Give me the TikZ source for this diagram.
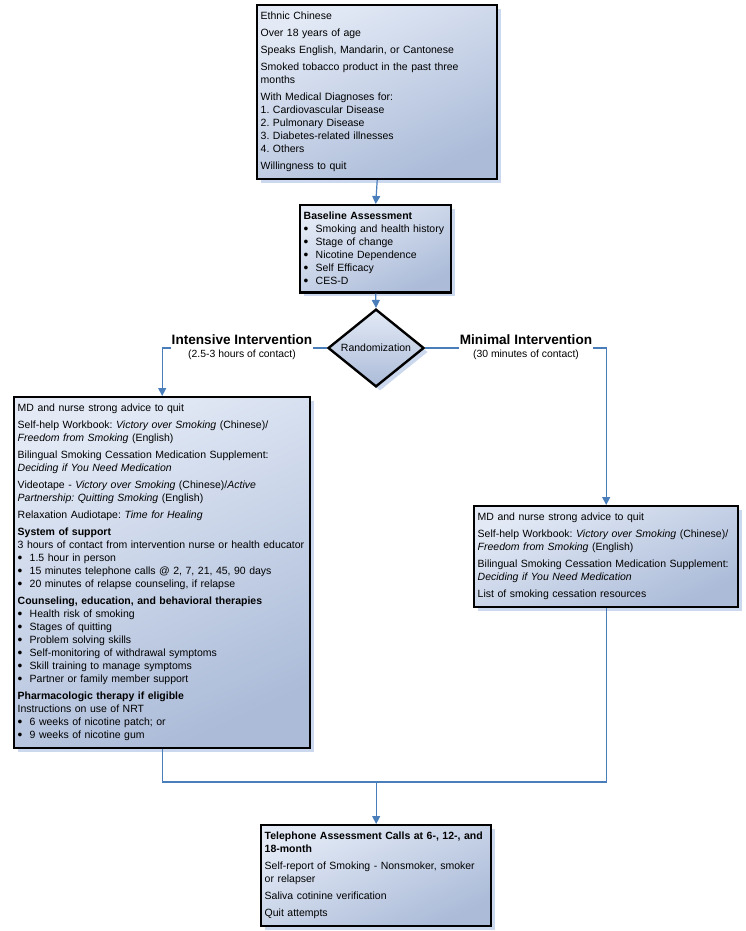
\documentclass[tikz,border=0pt]{standalone}
\usepackage{fontspec}
\setmainfont{Liberation Sans}
\usetikzlibrary{arrows.meta,positioning,shapes.geometric,shadows}
\definecolor{boxtop}{HTML}{E3EAF6}
\definecolor{boxbot}{HTML}{ABBBD8}
\definecolor{shadowblue}{HTML}{CBD8EE}
\definecolor{lineblue}{HTML}{4A7EBB}
\frenchspacing
\newcommand\bul{\makebox[12pt][l]{\raisebox{-0.5pt}{\scalebox{1.3}{\textbullet}}}}
\newcommand\subfont{\fontsize{10.4}{11}\selectfont\mdseries}
\tikzset{
  box/.style    ={draw=black,line width=2.4pt,top color=boxtop,bottom color=boxbot,
                  shading angle=25,
                  drop shadow={fill=shadowblue,opacity=1,shadow xshift=4pt,shadow yshift=-4pt},
                  inner xsep=3.5pt,inner ysep=7pt,anchor=north west,align=left,
                  font=\fontsize{10.5}{13}\selectfont},
  decis/.style  ={diamond,draw=black,line width=2.4pt,top color=boxtop,bottom color=boxbot,
                  drop shadow={fill=shadowblue,opacity=1,shadow xshift=4pt,shadow yshift=-4pt},
                  minimum width=96pt,minimum height=71pt,inner sep=0pt,
                  font=\fontsize{10.5}{12}\selectfont},
  ln/.style     ={draw=lineblue,line width=1.2pt},
  lnarr/.style  ={ln,-{Triangle[length=8pt,width=8pt]}},
  lbl/.style    ={fill=white,inner sep=1pt,align=center,font=\fontsize{13.6}{14}\selectfont\bfseries},
}

\begin{document}
\begin{tikzpicture}[x=1pt,y=-1pt]
\useasboundingbox (0,0) rectangle (746,931);

%% ---------------- boxes ----------------
\node[box,text width=233pt] (crit) at (256,4) {%
  Ethnic Chinese\\[4pt]
  Over 18 years of age\\[4pt]
  Speaks English, Mandarin, or Cantonese\\[4pt]
  Smoked tobacco product in the past three\\
  months\\[4pt]
  With Medical Diagnoses for:\\
  1. Cardiovascular Disease\\
  2. Pulmonary Disease\\
  3. Diabetes-related illnesses\\
  4. Others\\[4pt]
  Willingness to quit};

\node[box,text width=144pt] (base) at (299,204) {%
  \textbf{Baseline Assessment}\\
  \bul Smoking and health history\\
  \bul Stage of change\\
  \bul Nicotine Dependence\\
  \bul Self Efficacy\\
  \bul CES-D};

\node[decis] (rand) at (376,348) {Randomization};

\node[box,text width=289pt] (intens) at (13,396) {%
  MD and nurse strong advice to quit\\[4pt]
  Self-help Workbook: \textit{Victory over Smoking} (Chinese)/\\
  \textit{Freedom from Smoking} (English)\\[4pt]
  Bilingual Smoking Cessation Medication Supplement:\\
  \textit{Deciding if You Need Medication}\\[4pt]
  Videotape - \textit{Victory over Smoking} (Chinese)/\textit{Active}\\
  \textit{Partnership: Quitting Smoking} (English)\\[4pt]
  Relaxation Audiotape: \textit{Time for Healing}\\[4pt]
  \textbf{System of support}\\
  3 hours of contact from intervention nurse or health educator\\
  \bul 1.5 hour in person\\
  \bul 15 minutes telephone calls @ 2, 7, 21, 45, 90 days\\
  \bul 20 minutes of relapse counseling, if relapse\\[4pt]
  \textbf{Counseling, education, and behavioral therapies}\\
  \bul Health risk of smoking\\
  \bul Stages of quitting\\
  \bul Problem solving skills\\
  \bul Self-monitoring of withdrawal symptoms\\
  \bul Skill training to manage symptoms\\
  \bul Partner or family member support\\[4pt]
  \textbf{Pharmacologic therapy if eligible}\\
  Instructions on use of NRT\\
  \bul 6 weeks of nicotine patch; or\\
  \bul 9 weeks of nicotine gum};

\node[box,text width=257pt] (minim) at (473,505) {%
  MD and nurse strong advice to quit\\[4pt]
  Self-help Workbook: \textit{Victory over Smoking} (Chinese)/\\
  \textit{Freedom from Smoking} (English)\\[4pt]
  Bilingual Smoking Cessation Medication Supplement:\\
  \textit{Deciding if You Need Medication}\\[4pt]
  List of smoking cessation resources};

\node[box,text width=223pt] (follow) at (260,824) {%
  \textbf{Telephone Assessment Calls at 6-, 12-, and}\\
  \textbf{18-month}\\[4pt]
  Self-report of Smoking - Nonsmoker, smoker\\
  or relapser\\[4pt]
  Saliva cotinine verification\\[4pt]
  Quit attempts};

%% ---------------- connectors ----------------
\coordinate (midrow) at (0,782);
\coordinate (merge) at (follow.north |- midrow);

\draw[lnarr] (crit.south) -- (base.north);
\draw[lnarr] (base.south) -- (rand.north);
\draw[lnarr] (rand.west) -| (intens.north);
\draw[lnarr] (rand.east) -| (minim.north);
\draw[ln] (intens.south) |- (merge) -| (minim.south);
\draw[lnarr] (merge) -- (follow.north);

%% arm labels sit on top of the lines
\node[lbl] (intlbl) at (242,347) {Intensive Intervention\\[-1pt]
  {\subfont (2.5-3 hours of contact)}};
\node[lbl] (minlbl) at (526,347) {Minimal Intervention\\[-1pt]
  {\subfont (30 minutes of contact)}};

\end{tikzpicture}
\end{document}
